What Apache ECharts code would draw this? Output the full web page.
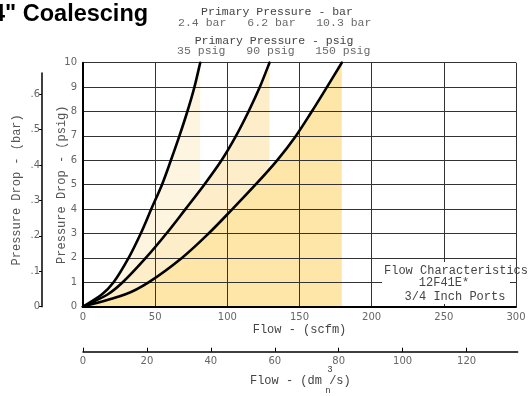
<!DOCTYPE html>
<html>
<head>
<meta charset="utf-8">
<script src="https://cdn.jsdelivr.net/npm/echarts@6/dist/echarts.min.js"></script>
<style>html,body{margin:0;padding:0;background:#fff;}#c{width:532px;height:396px;}</style>
</head>
<body>
<div id="c"></div>
<script>
// Pressure drop levels (psig) and flow (scfm)
const dropPsig = [0, 0.5, 1, 2, 3, 4, 5, 6, 7, 8, 9, 10];
const flow35psig  = [0, 13.0, 21.2, 31.6, 40.0, 47.3, 54.7, 60.9, 66.8, 72.3, 77.2, 81.2];
const flow90psig  = [0, 17.0, 27.5, 43.5, 57.8, 71.0, 84.0, 96.0, 106.0, 114.7, 122.5, 129.2];
const flow150psig = [0, 29.0, 45.4, 68.5, 87.0, 103.5, 119.5, 134.5, 147.5, 158.5, 169.0, 179.3];
const curveLabelsPsig = ['35 psig', '90 psig', '150 psig'];
const curveLabelsBar = ['2.4 bar', '6.2 bar', '10.3 bar'];
const scfmTicks = [0, 50, 100, 150, 200, 250, 300];
const dm3Ticks = [0, 20, 40, 60, 80, 100, 120];
const barTicks = [0, 0.1, 0.2, 0.3, 0.4, 0.5, 0.6];
const fillColors = ['#fdf5e0', '#fdedc8', '#fde6a7'];

const curves = [flow35psig, flow90psig, flow150psig];
const pairs = curves.map(c => c.map((f, i) => [f, dropPsig[i]]));

const chart = echarts.init(document.getElementById('c'), null, {renderer: 'canvas'});
const mono = 'Liberation Mono';
const tickFont = {color: '#666', fontSize: 10, fontFamily: 'DejaVu Sans'};

// Catmull-Rom spline through the data points, mapped by the axes (api.coord)
function splinePath(api, pts, closeToBase) {
  const P = pts.map(p => api.coord(p));
  let d = 'M' + P[0][0] + ' ' + P[0][1];
  for (let i = 0; i < P.length - 1; i++) {
    const p0 = P[Math.max(i - 1, 0)], p1 = P[i], p2 = P[i + 1], p3 = P[Math.min(i + 2, P.length - 1)];
    const c1x = p1[0] + (p2[0] - p0[0]) / 6, c1y = p1[1] + (p2[1] - p0[1]) / 6;
    const c2x = p2[0] - (p3[0] - p1[0]) / 6, c2y = p2[1] - (p3[1] - p1[1]) / 6;
    d += ' C' + c1x + ' ' + c1y + ' ' + c2x + ' ' + c2y + ' ' + p2[0] + ' ' + p2[1];
  }
  if (closeToBase) {
    const last = pts[pts.length - 1];
    const base = api.coord([last[0], 0]);
    d += ' L' + base[0] + ' ' + base[1] + ' Z';
  }
  return d;
}

const series = [];
pairs.forEach((p, i) => {
  series.push({
    type: 'custom', xAxisIndex: 0, yAxisIndex: 0, data: p, z: 1, silent: true,
    encode: {x: 0, y: 1},
    renderItem: (params, api) => params.dataIndex !== 0 ? null : {
      type: 'path', shape: {pathData: splinePath(api, p, true)},
      style: {fill: fillColors[i], stroke: null}
    }
  });
});
pairs.forEach((p, i) => {
  series.push({
    type: 'custom', xAxisIndex: 0, yAxisIndex: 0, data: p, z: 5, silent: true,
    encode: {x: 0, y: 1},
    renderItem: (params, api) => params.dataIndex !== 0 ? null : {
      type: 'path', shape: {pathData: splinePath(api, p, false)},
      style: {fill: null, stroke: '#000', lineWidth: 2.6, lineJoin: 'round', lineCap: 'round'}
    }
  });
});
series.push({
  type: 'scatter', xAxisIndex: 0, yAxisIndex: 0, symbolSize: 0, z: 6, silent: true,
  data: curves.map((c, i) => ({value: [c[c.length - 1], dropPsig[dropPsig.length - 1]], name: curveLabelsPsig[i]})),
  label: {show: true, position: 'top', distance: 6, formatter: p => p.name,
    fontFamily: mono, fontSize: 11.5, color: '#444', offset: [1, 0]}
});
series.push({
  type: 'scatter', xAxisIndex: 0, yAxisIndex: 0, symbolSize: 0, z: 6, silent: true,
  data: curves.map((c, i) => ({value: [c[c.length - 1], dropPsig[dropPsig.length - 1]], name: curveLabelsBar[i]})),
  label: {show: true, position: 'top', distance: 34, formatter: p => p.name,
    fontFamily: mono, fontSize: 11.5, color: '#444', offset: [2, 0]}
});

const option = {
  animation: false,
  backgroundColor: '#fff',
  grid: [
    {left: 83, right: 16, top: 62.7, bottom: 89.3},
    {left: 42, width: 1, top: 73, bottom: 89.3},
    {left: 83, right: 14.3, top: 300, bottom: 44.3}
  ],
  xAxis: [
    {gridIndex: 0, type: 'value', min: 0, max: 300, interval: 50, z: 3,
     axisLine: {lineStyle: {color: '#000', width: 2}},
     axisTick: {show: false},
     axisLabel: Object.assign({margin: 6, customValues: scfmTicks}, tickFont),
     splitLine: {show: true, lineStyle: {color: '#333', width: 1}},
     name: 'Flow - (scfm)', nameLocation: 'middle', nameGap: 17, nameMoveOverlap: false,
     nameTextStyle: {fontFamily: mono, fontSize: 12, color: '#444'}},
    {gridIndex: 1, type: 'value', min: 0, max: 1, show: false},
    {gridIndex: 2, type: 'value', min: 0, max: 136, interval: 20, position: 'bottom',
     axisLine: {lineStyle: {color: '#000', width: 1.5}},
     axisTick: {inside: true, length: 4, lineStyle: {color: '#000'}, customValues: dm3Ticks},
     axisLabel: Object.assign({margin: 5, customValues: dm3Ticks}, tickFont),
     splitLine: {show: false},
     name: 'Flow - (dm /s)', nameLocation: 'middle', nameGap: 23, nameMoveOverlap: false,
     nameTextStyle: {fontFamily: mono, fontSize: 12, color: '#444'}}
  ],
  yAxis: [
    {gridIndex: 0, type: 'value', min: 0, max: 10, interval: 1, z: 3,
     axisLine: {show: true, lineStyle: {color: '#000', width: 2}},
     axisTick: {show: false},
     axisLabel: Object.assign({margin: 6}, tickFont),
     splitLine: {show: true, lineStyle: {color: '#333', width: 1}},
     name: 'Pressure Drop - (psig)', nameLocation: 'middle', nameGap: 15, nameMoveOverlap: false,
     nameTextStyle: {fontFamily: mono, fontSize: 12, color: '#555'}},
    {gridIndex: 1, type: 'value', min: 0, max: 0.66, interval: 0.1, position: 'left',
     axisLine: {show: true, lineStyle: {color: '#000', width: 1.5}},
     axisTick: {show: true, length: 3, lineStyle: {color: '#000'}, customValues: barTicks},
     axisLabel: Object.assign({margin: 2, customValues: barTicks,
       formatter: v => v === 0 ? '0' : '.' + Math.round(v * 10)}, tickFont),
     splitLine: {show: false},
     name: 'Pressure Drop - (bar)', nameLocation: 'middle', nameGap: 19, nameMoveOverlap: false,
     nameTextStyle: {fontFamily: mono, fontSize: 12, color: '#555'}},
    {gridIndex: 2, type: 'value', min: 0, max: 1, show: false}
  ],
  graphic: [
    {type: 'text', left: -8, top: 3, z: 10,
     style: {text: '4" Coalescing', font: 'bold 23.5px "Liberation Sans"', fill: '#000'}},
    {type: 'text', x: 277, y: 12, z: 10,
     style: {text: 'Primary Pressure - bar', font: '11.5px "Liberation Mono"', fill: '#444', textAlign: 'center', textVerticalAlign: 'middle'}},
    {type: 'text', x: 274, y: 41, z: 10,
     style: {text: 'Primary Pressure - psig', font: '11.5px "Liberation Mono"', fill: '#444', textAlign: 'center', textVerticalAlign: 'middle'}},
    {type: 'rect', shape: {x: 382, y: 262, width: 128, height: 42}, z: 10,
     style: {fill: '#fff'}},
    {type: 'text', x: 456, y: 271, z: 11,
     style: {text: 'Flow Characteristics', font: '12px "Liberation Mono"', fill: '#444', textAlign: 'center', textVerticalAlign: 'middle'}},
    {type: 'text', x: 444, y: 283, z: 11,
     style: {text: '12F41E*', font: '12px "Liberation Mono"', fill: '#444', textAlign: 'center', textVerticalAlign: 'middle'}},
    {type: 'text', x: 455, y: 297, z: 11,
     style: {text: '3/4 Inch Ports', font: '12px "Liberation Mono"', fill: '#444', textAlign: 'center', textVerticalAlign: 'middle'}},
    {type: 'text', x: 330, y: 370, z: 11,
     style: {text: '3', font: '9px "Liberation Mono"', fill: '#444', textAlign: 'center', textVerticalAlign: 'middle'}},
    {type: 'text', x: 328, y: 391, z: 11,
     style: {text: 'n', font: '9px "Liberation Mono"', fill: '#444', textAlign: 'center', textVerticalAlign: 'middle'}}
  ],
  series: series
};
chart.setOption(option);
</script>
</body>
</html>
